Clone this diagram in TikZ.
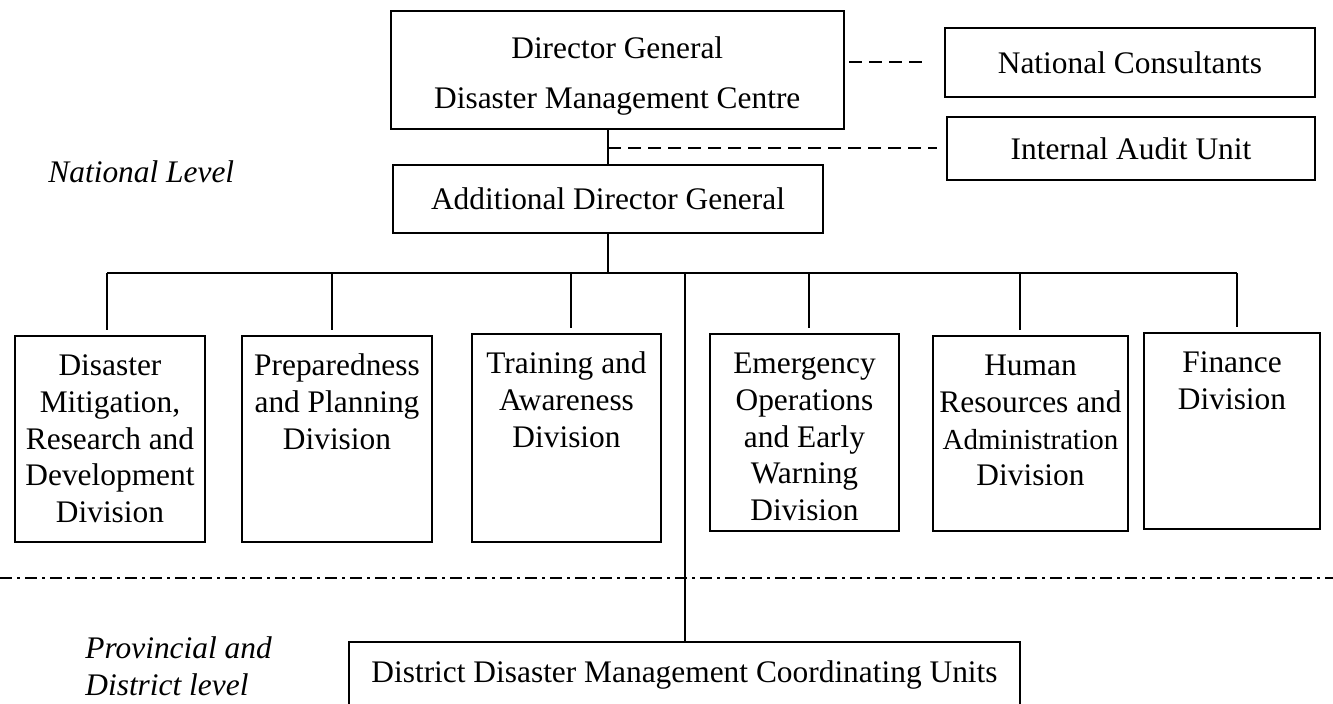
\documentclass[tikz,border=0pt]{standalone}
\usepackage{fontspec}
\setmainfont{Liberation Serif}

\newcommand\orgfont{\fontsize{15.7}{18.3}\selectfont}
\newcommand\divtext[3]{\parbox[t][#1][t]{#2}{\centering\rule{0pt}{20pt}#3}}

\begin{document}
\begin{tikzpicture}[
    x=0.5pt, y=-0.5pt,  % one unit = one pixel of the original chart
    % Styles
    unit/.style={draw, line width=1pt, inner sep=0pt, align=center, font=\orgfont},
    divbox/.style={draw, line width=1pt, inner sep=0pt, anchor=north west, font=\orgfont},
    link/.style={line width=1pt},
    dashlink/.style={line width=1pt, dash pattern=on 6.5pt off 3.5pt},
    levelsep/.style={line width=1pt, dash pattern=on 6pt off 2.5pt on 1.5pt off 2.5pt},
    level/.style={font=\orgfont\itshape, align=left, anchor=west, inner sep=0pt},
]
\useasboundingbox (0,0) rectangle (1333,704);

% Head of the centre
\node[divbox, font=\fontsize{15.7}{25}\selectfont] (dg) at (389.5,10) {\parbox[t][59pt][t]{226.75pt}{\centering\rule{0pt}{23.75pt}Director General\\Disaster Management Centre}};

% Units attached to the head
\node[unit, minimum width=185pt, minimum height=34.5pt] (nc) at (1130,62.5) {National Consultants};
\node[unit, minimum width=184pt, minimum height=31.5pt] (iau) at (1131,148.5) {Internal Audit Unit};

% Additional Director General
\node[unit, minimum width=215pt, minimum height=34pt] (adg) at (608,199) {Additional Director General};

% Level labels
\node[level] (national) at (48,172) {National Level};
\node[level] (provincial) at (85,666.5) {Provincial and\\District level};

% Divisions
\node[divbox] (dmr) at (14,335) {\divtext{103pt}{95pt}{Disaster\\Mitigation,\\Research and\\Development\\Division}};
\node[divbox] (ppd) at (241,335) {\divtext{103pt}{95pt}{Preparedness\\and Planning\\Division}};
\node[divbox] (tad) at (471,333) {\divtext{104pt}{94.5pt}{Training and\\Awareness\\Division}};
\node[divbox] (eoew) at (709,333) {\divtext{98.5pt}{94.5pt}{Emergency\\Operations\\and Early\\Warning\\Division}};
\node[divbox] (hra) at (932,335) {\divtext{97.5pt}{97.5pt}{Human\\Resources and\\{\fontsize{14.5}{18.3}\selectfont Administration}\\Division}};
\node[divbox] (fin) at (1143,332) {\divtext{98pt}{88pt}{Finance\\Division}};

% District units
\node[unit, minimum width=335.5pt, minimum height=33pt] (ddm) at (684.5,675) {\raisebox{-1.5pt}{District Disaster Management Coordinating Units}};

% Line between national and district level
\draw[levelsep] (0,578) -- (1333,578);

% Reporting lines
\draw[link] (adg.north) -- (adg.north |- dg.south);
\draw[dashlink, shorten <=2pt, shorten >=11pt] (nc.west -| dg.east) -- (nc.west);
\draw[dashlink, shorten >=4.5pt] (iau.west -| adg.north) -- (iau.west);

\foreach \x/\dv in {107/dmr, 332/ppd, 571/tad, 809/eoew, 1020/hra, 1237/fin} {
    \coordinate (top-\dv) at (\x,273);
    \draw[link, shorten >=2.5pt] (top-\dv) -- (top-\dv |- \dv.north);
}
\draw[link] (top-dmr) -- (top-fin);
\draw[link] (adg.south) -- (adg.south |- top-dmr);
\draw[link] (ddm.north |- top-dmr) -- (ddm.north);

\end{tikzpicture}
\end{document}
